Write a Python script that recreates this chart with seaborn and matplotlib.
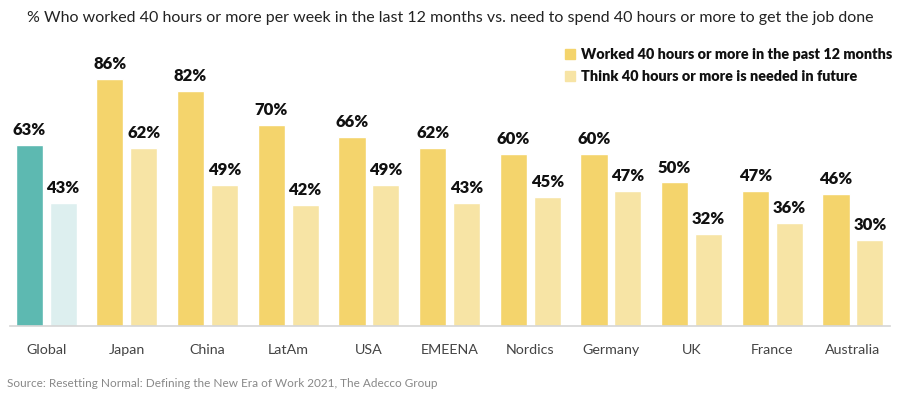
import matplotlib
matplotlib.use("Agg")
import matplotlib.pyplot as plt
import matplotlib.patches as mpatches
import seaborn as sns
import pandas as pd

regions = ["Global", "Japan", "China", "LatAm", "USA", "EMEENA", "Nordics",
           "Germany", "UK", "France", "Australia"]
worked = [63, 86, 82, 70, 66, 62, 60, 60, 50, 47, 46]
needed = [43, 62, 49, 42, 49, 43, 45, 47, 32, 36, 30]
series = ["Worked 40 hours or more in the past 12 months",
          "Think 40 hours or more is needed in future"]

df = pd.DataFrame({
    "region": regions * 2,
    "value": worked + needed,
    "series": [series[0]] * len(regions) + [series[1]] * len(regions),
})

yellow = "#F4D46C"
light_yellow = "#F7E4A5"
teal = "#5DB9B1"
light_teal = "#DDEFEF"

sns.set_style("white")
plt.rcParams["font.family"] = ["Lato", "DejaVu Sans"]

fig = plt.figure(figsize=(9, 3.95), dpi=100)
ax = fig.add_axes([0.011, 0.175, 0.978, 0.726])

sns.barplot(data=df, x="region", y="value", hue="series",
            palette=[yellow, light_yellow], width=0.84, gap=0.2,
            saturation=1, order=regions, hue_order=series,
            legend=False, ax=ax)

# Global bars get the teal pair
for cont, col in zip(ax.containers, [teal, light_teal]):
    cont.patches[0].set_facecolor(col)
    ax.bar_label(cont, labels=[f"{v:.0f}%" for v in cont.datavalues],
                 padding=5, fontsize=12, fontweight="heavy", color="#111111")

ax.set_ylim(0, 100)
ax.set_xlim(-0.45, 10.46)
ax.set_yticks([])
ax.set_xlabel("")
ax.set_ylabel("")
ax.tick_params(axis="x", length=0, labelsize=10.3, labelcolor="#444444", pad=13)
for s in ["top", "right", "left"]:
    ax.spines[s].set_visible(False)
ax.spines["bottom"].set_color("#D5D5D5")
ax.spines["bottom"].set_linewidth(1.2)

handles = [mpatches.Patch(color=yellow, label=series[0]),
           mpatches.Patch(color=light_yellow, label=series[1])]
leg = fig.legend(handles=handles, loc="upper left", bbox_to_anchor=(0.622, 0.892),
                 frameon=False, handlelength=0.7, handleheight=0.7,
                 handletextpad=0.4, labelspacing=0.6, borderaxespad=0)
for t in leg.get_texts():
    t.set_fontweight("heavy")
    t.set_fontsize(10.4)
    t.set_color("#111111")

fig.text(0.5, 0.955, "% Who worked 40 hours or more per week in the last 12 months vs. "
         "need to spend 40 hours or more to get the job done",
         ha="center", va="center", fontsize=11.5, color="#222222")
fig.text(0.008, 0.03, "Source: Resetting Normal: Defining the New Era of Work 2021, The Adecco Group",
         ha="left", va="center", fontsize=8.5, color="#888888")

fig.savefig("out.png", dpi=100)
